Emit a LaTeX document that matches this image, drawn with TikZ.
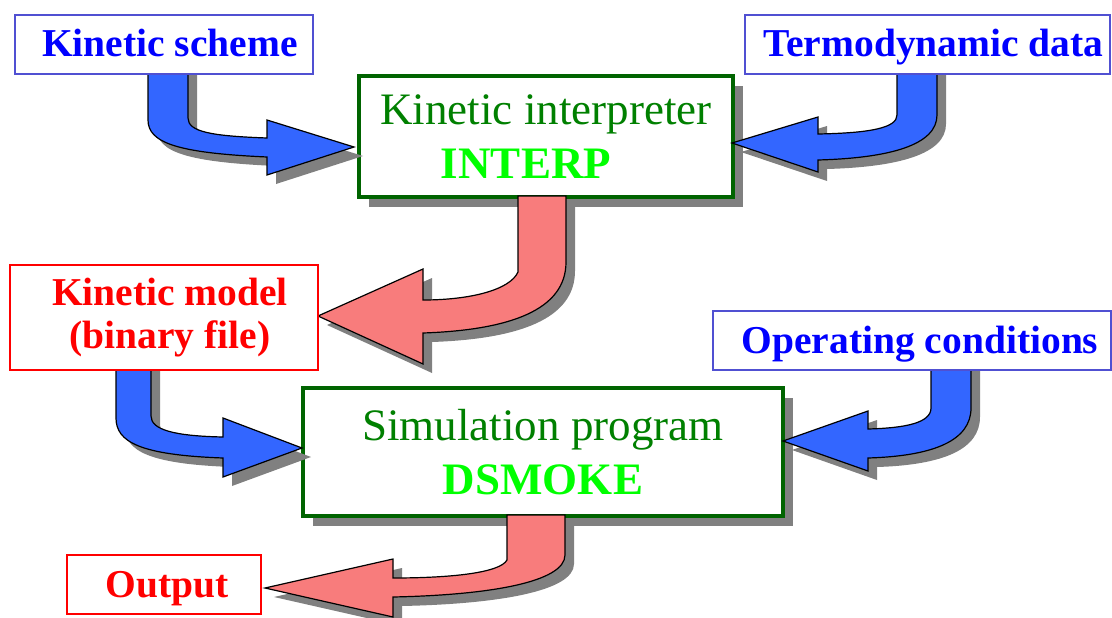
\documentclass[tikz,border=0pt]{standalone}
\usepackage{fontspec}
\setmainfont{Liberation Serif}
\usepackage{tikz}
\usetikzlibrary{shadows}

\definecolor{inblue}{RGB}{80,80,210}
\definecolor{boxgreen}{RGB}{0,100,0}
\definecolor{txtgreen}{RGB}{0,128,0}
\definecolor{limegreen}{RGB}{0,255,0}
\definecolor{arrblue}{RGB}{51,102,255}
\definecolor{arrpink}{RGB}{248,124,124}
\definecolor{shadowgray}{RGB}{128,128,128}

\begin{document}
\begin{tikzpicture}[
  x=1pt, y=-1pt,
  inbox/.style={draw=inblue, line width=1.3pt, fill=white, text=blue, inner sep=0pt,
    align=center, font=\fontsize{39.5}{43}\selectfont\bfseries},
  outbox/.style={draw=red, line width=1.3pt, fill=white, text=red, inner sep=0pt,
    align=center, font=\fontsize{39.5}{43}\selectfont\bfseries},
  oneline/.style={text height=25pt, text depth=0pt},
  prog/.style={draw=boxgreen, line width=3.4pt, fill=white, text=txtgreen, inner sep=0pt,
    align=center, font=\fontsize{45}{54}\selectfont,
    drop shadow={shadow xshift=10pt, shadow yshift=-10pt, fill=shadowgray, opacity=1}},
  fatarrow/.style={draw=black, line width=1.2pt,
    drop shadow={shadow xshift=9pt, shadow yshift=-9pt, fill=shadowgray, opacity=1}},
]
  \useasboundingbox (0,0) rectangle (1112,618);

  % programs
  \node[prog, minimum width=374pt, minimum height=121pt] (interp) at (546,136.5)
    {Kinetic interpreter\\\textcolor{limegreen}{\bfseries INTERP}\hspace*{40pt}};
  \node[prog, minimum width=480pt, minimum height=128pt] (dsmoke) at (543,452)
    {Simulation program\\\textcolor{limegreen}{\bfseries DSMOKE}};

  % fat arrows
  \draw[fatarrow, fill=arrblue] (148,66) -- (148,120)
    .. controls (148,143) and (178,153) .. (267,157) -- (267,175) -- (354,147)
    -- (267,120) -- (267,138) .. controls (212,136) and (188,132) .. (188,118)
    -- (188,66) -- cycle;
  \draw[fatarrow, fill=arrblue] (897,64) -- (897,115)
    .. controls (897,128) and (870,133) .. (818,134) -- (818,117) -- (732,143)
    -- (818,172) -- (818,160) .. controls (890,158) and (937,145) .. (937,115)
    -- (937,64) -- cycle;
  \draw[fatarrow, fill=arrpink] (518,196) -- (518,272)
    .. controls (510,290) and (470,300) .. (423,300) -- (423,269) -- (318,316)
    -- (423,364) -- (423,333) .. controls (510,330) and (566,310) .. (566,262)
    -- (566,196) -- cycle;
  \draw[fatarrow, fill=arrblue] (116,359) -- (116,418)
    .. controls (116,442) and (140,455) .. (223,458) -- (223,477) -- (302,448)
    -- (223,418) -- (223,437) .. controls (175,436) and (151,430) .. (151,416)
    -- (151,359) -- cycle;
  \draw[fatarrow, fill=arrblue] (931,360) -- (931,408)
    .. controls (931,423) and (905,428) .. (868,429) -- (868,411) -- (783,441)
    -- (868,471) -- (868,458) .. controls (935,456) and (971,440) .. (971,408)
    -- (971,360) -- cycle;
  \draw[fatarrow, fill=arrpink] (507,515) -- (507,560)
    .. controls (500,573) and (450,578) .. (393,578) -- (393,559) -- (265,588)
    -- (393,617) -- (393,597) .. controls (490,595) and (565,582) .. (565,555)
    -- (565,515) -- cycle;

  % inputs and outputs
  \node[inbox, oneline, minimum width=298pt, minimum height=59pt] (scheme) at (164,44.5)
    {\hspace*{12pt}Kinetic scheme};
  \node[inbox, oneline, minimum width=365pt, minimum height=59pt] (thermo) at (927.5,44.5)
    {\hspace*{12pt}Termodynamic data};
  \node[outbox, minimum width=308pt, minimum height=105pt] (model) at (164,317.5)
    {\hspace*{12pt}Kinetic model\\\hspace*{12pt}(binary file)};
  \node[inbox, oneline, minimum width=398pt, minimum height=59pt] (opcond) at (912,340.5)
    {\hspace*{16pt}Operating conditions};
  \node[outbox, oneline, minimum width=194pt, minimum height=59pt] (output) at (164,584.5)
    {\hspace*{6pt}Output};
\end{tikzpicture}
\end{document}
